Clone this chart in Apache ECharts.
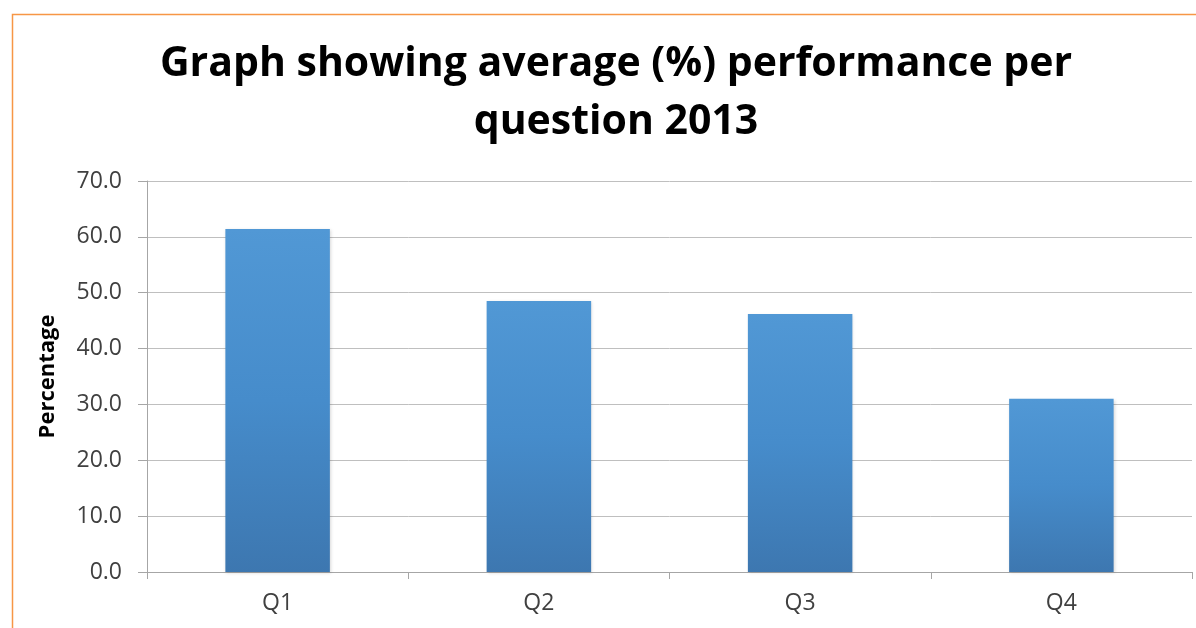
<!DOCTYPE html>
<html><head><meta charset="utf-8">
<script src="https://cdn.jsdelivr.net/npm/echarts@6/dist/echarts.min.js"></script>
<style>html,body{margin:0;padding:0;background:#fff}#c{width:1196px;height:628px}</style>
</head><body><div id="c"></div>
<script>
var titleText = 'Graph showing average (%) performance per\nquestion 2013';
var categories = ['Q1', 'Q2', 'Q3', 'Q4'];
var values = [61.4, 48.5, 46.2, 31.0];
var yAxisName = 'Percentage';

var chart = echarts.init(document.getElementById('c'));
chart.setOption({
  backgroundColor: '#fff',
  animation: false,
  graphic: [{
    type: 'rect', left: 10, top: 12, silent: true,
    shape: { width: 1300, height: 700 },
    style: { fill: 'none', stroke: '#f79646', lineWidth: 1.5 }
  }],
  title: {
    text: titleText, left: 611, top: 30, textAlign: 'center',
    textStyle: { fontFamily: 'Open Sans', fontWeight: 'bold', fontSize: 41, color: '#000', lineHeight: 58 }
  },
  grid: { left: 147, right: 4, top: 181, bottom: 56 },
  xAxis: {
    type: 'category', data: categories,
    axisLine: { lineStyle: { color: '#a6a6a6', width: 1 } },
    axisTick: { show: true, length: 7, alignWithLabel: false, lineStyle: { color: '#a6a6a6' } },
    axisLabel: { fontFamily: 'Open Sans', fontSize: 23, color: '#404040', margin: 20 }
  },
  yAxis: {
    type: 'value', min: 0, max: 70, interval: 10,
    name: yAxisName, nameLocation: 'middle', nameGap: 88,
    nameTextStyle: { fontFamily: 'Open Sans', fontWeight: 'bold', fontSize: 22, color: '#000' },
    axisLine: { show: true, lineStyle: { color: '#a6a6a6' } },
    axisTick: { show: true, length: 9, lineStyle: { color: '#a6a6a6' } },
    axisLabel: { fontFamily: 'Open Sans', fontSize: 23, color: '#404040', margin: 25,
      formatter: function (v) { return v.toFixed(1); } },
    splitLine: { lineStyle: { color: '#bfbfbf', width: 1 } }
  },
  series: [{
    type: 'bar', data: values, barWidth: '40%',
    itemStyle: {
      color: new echarts.graphic.LinearGradient(0, 0, 0, 1, [
        { offset: 0, color: '#5198d5' },
        { offset: 0.5, color: '#468ccb' },
        { offset: 1, color: '#3d77b0' }
      ]),
      shadowColor: 'rgba(0,0,0,0.15)', shadowBlur: 3, shadowOffsetX: 1, shadowOffsetY: 1
    }
  }]
});
</script></body></html>
